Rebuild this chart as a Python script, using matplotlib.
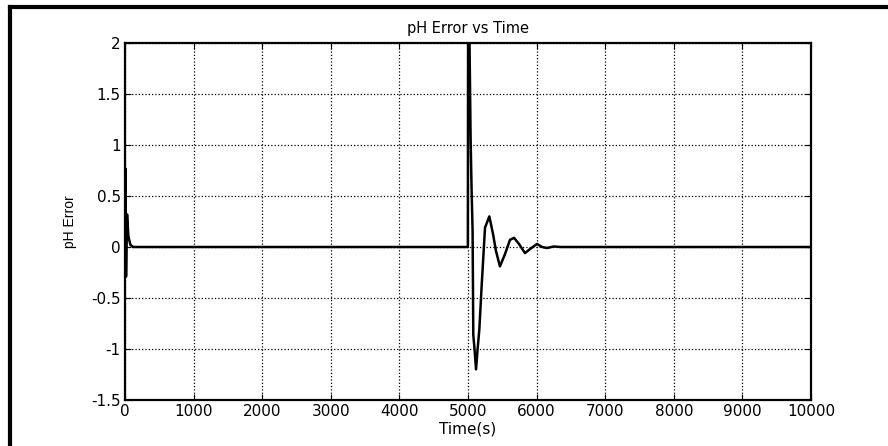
import numpy as np
import matplotlib.pyplot as plt
from matplotlib.lines import Line2D

# pH error samples
t = [0, 5, 15, 30, 50, 80, 120, 4998, 5002, 5012, 5038, 5052, 5067, 5077,
     5095, 5117, 5140, 5165, 5200, 5248, 5311, 5364, 5408, 5466, 5539,
     5612, 5671, 5743, 5831, 5904, 6006, 6080, 6152, 6250, 6350, 6500, 10000]
err = [0, 0.77, -0.29, 0.32, 0.1, 0.02, 0, 0, 2.6, 2.6, 1.06, 0.57, 0.16, -0.86,
       -1.0, -1.2, -1.0, -0.81, -0.37, 0.19, 0.30, 0.13, -0.04, -0.19, -0.07,
       0.07, 0.09, 0.03, -0.06, -0.02, 0.03, 0.0, -0.01, 0.005, 0.0, 0.0, 0.0]

xticks = np.arange(0, 10001, 1000)
yticks = [-1.5, -1, -0.5, 0, 0.5, 1, 1.5, 2]
ylabels = ['-1.5', '-1', '-0.5', '0', '0.5', '1', '1.5', '2']

fig = plt.figure(figsize=(8.88, 4.46), dpi=100)
ax = fig.add_axes([125 / 888, 1 - 400 / 446, (811 - 125) / 888, (400 - 43) / 446])

ax.plot(t, err, color='black', lw=1.8)
ax.set_xlim(0, 10000)
ax.set_ylim(-1.5, 2)
ax.set_xticks(xticks)
ax.set_yticks(yticks)
ax.set_yticklabels(ylabels)
ax.tick_params(direction='in', top=True, right=True, length=4, pad=3)
ax.grid(True, color='black', linestyle=':', lw=0.9)
for s in ax.spines.values():
    s.set_linewidth(1.6)

for lab in ax.get_xticklabels() + ax.get_yticklabels():
    lab.set_fontfamily('DejaVu Sans')
    lab.set_fontsize(11)

ax.set_title('pH Error vs Time', pad=7, fontsize=10.5)
ax.set_xlabel('Time(s)', labelpad=2, fontsize=11)
ax.set_ylabel('pH Error', labelpad=10, family='Liberation Sans', fontsize=10)

# scanned page frame
fig.add_artist(Line2D([10 / 888, 1], [1 - 7 / 446, 1 - 7 / 446], color='black', lw=3))
fig.add_artist(Line2D([10 / 888, 10 / 888], [0, 1 - 7 / 446], color='black', lw=3))

fig.savefig('out.png', dpi=100)
